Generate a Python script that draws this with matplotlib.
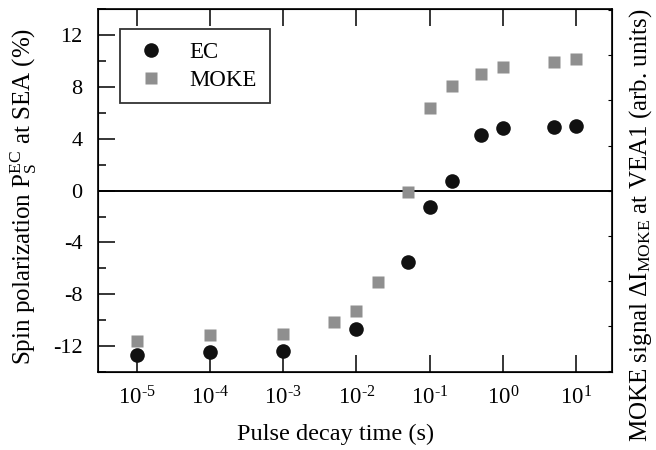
import matplotlib
matplotlib.use("Agg")
import matplotlib.pyplot as plt
from matplotlib.ticker import FuncFormatter, FixedLocator, MultipleLocator, NullLocator
import numpy as np

plt.rcParams['font.family'] = ['Liberation Serif', 'DejaVu Serif']
plt.rcParams['mathtext.fontset'] = 'custom'
plt.rcParams['mathtext.rm'] = 'Liberation Serif'
plt.rcParams['mathtext.it'] = 'Liberation Serif:italic'
plt.rcParams['mathtext.default'] = 'regular'
plt.rcParams['axes.unicode_minus'] = False

# EC data (spin polarization, %)
ec_t = [1e-5, 1e-4, 1e-3, 1e-2, 5e-2, 1e-1, 2e-1, 5e-1, 1, 5, 10]
ec_p = [-12.7, -12.45, -12.4, -10.7, -5.5, -1.3, 0.75, 4.3, 4.8, 4.9, 5.0]

# MOKE data (plotted on same scale)
moke_t = [1e-5, 1e-4, 1e-3, 5e-3, 1e-2, 2e-2, 5e-2, 1e-1, 2e-1, 5e-1, 1, 5, 10]
moke_s = [-11.6, -11.1, -11.05, -10.15, -9.25, -7.05, -0.08, 6.4, 8.05, 9.0, 9.5, 9.95, 10.15]

def pow_label(x, pos):
    n = int(round(np.log10(x)))
    if n < 0:
        return '$10^{\u2010%d}$' % (-n)
    return '$10^{%d}$' % n

fig = plt.figure(figsize=(6.56, 4.5), dpi=100)
ax = fig.add_axes([0.149, 0.173, 0.784, 0.807])

ax.axhline(0, color='black', lw=1.4, zorder=1)
ax.plot(moke_t, moke_s, 's', color='#8f8f8f', ms=8.5, mec='none', label='MOKE', zorder=3)
ax.plot(ec_t, ec_p, 'o', color='#111111', ms=10.5, mec='none', label='EC', zorder=4)

ax.set_xscale('log')
ax.set_xlim(10 ** -5.53, 10 ** 1.49)
ax.set_ylim(-14, 14)

ax.xaxis.set_major_locator(FixedLocator([1e-5, 1e-4, 1e-3, 1e-2, 1e-1, 1, 10]))
ax.xaxis.set_major_formatter(FuncFormatter(pow_label))
ax.xaxis.set_minor_locator(NullLocator())
ax.yaxis.set_major_locator(MultipleLocator(4))
ax.yaxis.set_minor_locator(MultipleLocator(2))

ax.tick_params(axis='x', which='major', direction='in', top=True, length=12, width=1.1,
               labelsize=16.5, pad=10)
ax.tick_params(axis='y', which='major', direction='in', length=12, width=1.1, labelsize=16, pad=11)
ax.tick_params(axis='y', which='minor', direction='in', length=6, width=1.1)
for s in ax.spines.values():
    s.set_linewidth(1.2)

ax.set_xlabel('Pulse decay time (s)', fontsize=17.5, va='center')
ax.xaxis.set_label_coords(336 / 656, 1 - 434 / 450, transform=fig.transFigure)
ax.set_ylabel(r'Spin polarization P$_{S}^{EC}$ at SEA (%)', fontsize=18, va='center')
ax.yaxis.set_label_coords(24 / 656, 1 - 196 / 450, transform=fig.transFigure)

ax2 = ax.twinx()
ax2.set_ylim(-4.03, 4.03)
ax2.yaxis.set_major_locator(MultipleLocator(1))
ax2.tick_params(axis='y', direction='in', length=3, width=0.8, labelright=False)
ax2.set_ylabel(r'MOKE signal $\Delta$I$_{MOKE}$ at VEA1 (arb. units)', fontsize=18,
               va='center', rotation=90)
ax2.yaxis.set_label_coords(641 / 656, 1 - 225 / 450, transform=fig.transFigure)

handles, labels = ax.get_legend_handles_labels()
leg = ax.legend(handles[::-1], labels[::-1], loc='upper left', bbox_to_anchor=(0.043, 0.945),
                fontsize=16.5, frameon=True, fancybox=False, edgecolor='black',
                handlelength=1.6, handletextpad=0.9, borderpad=0.55, labelspacing=0.3,
                borderaxespad=0)
leg.get_frame().set_linewidth(1.3)

fig.savefig('out.png', dpi=100)
